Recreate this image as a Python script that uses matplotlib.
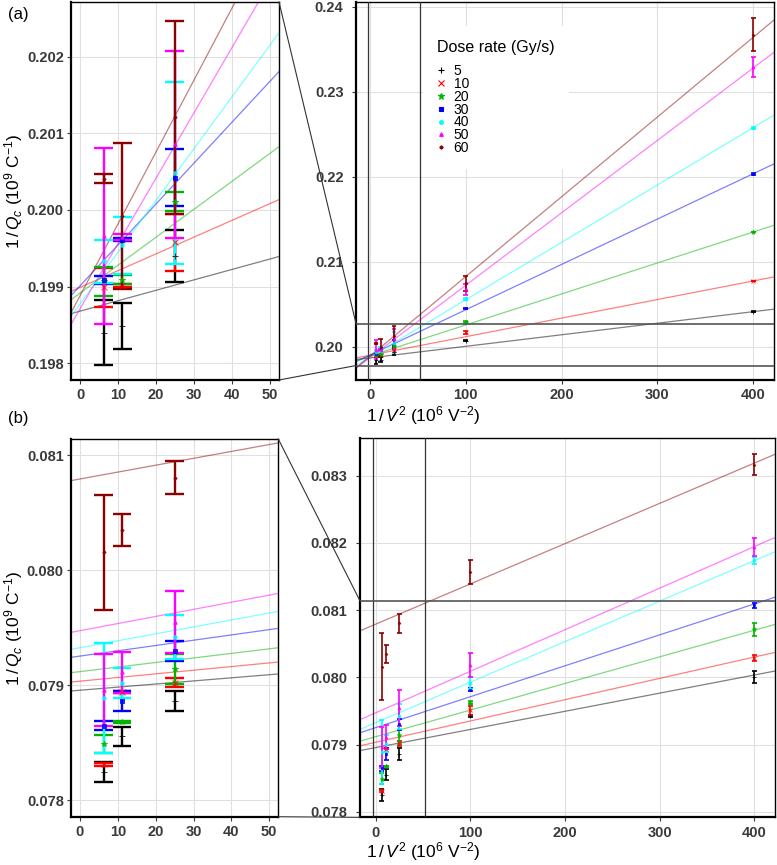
import matplotlib

matplotlib.use("Agg")

import matplotlib.pyplot as plt
import numpy as np
from matplotlib.lines import Line2D
from matplotlib.patches import ConnectionPatch

plt.rcParams["font.family"] = ["Liberation Sans", "DejaVu Sans"]
plt.rcParams["mathtext.fontset"] = "custom"
plt.rcParams["mathtext.rm"] = "Liberation Sans"
plt.rcParams["mathtext.it"] = "Liberation Sans:italic"
plt.rcParams["mathtext.bf"] = "Liberation Sans:bold"

# 1/V^2 (10^6 V^-2) for V = 400, 300, 200, 100, 50 V
x_vals = [6.25, 11.11, 25, 100, 400]
dose_rates = [5, 10, 20, 30, 40, 50, 60]
colors = ["#000000", "#FF0000", "#00B400", "#0000FF", "#00FFFF", "#FF00FF", "#8B0000"]
markers = ["+", "x", "*", "s", "o", "^", "D"]

# panel (a)
a_mean = [
    [0.19840, 0.19848, 0.19940, 0.20071, 0.20412],
    [0.19899, 0.19901, 0.19958, 0.20169, 0.20773],
    [0.19907, 0.19909, 0.20011, 0.20287, 0.21349],
    [0.19909, 0.19961, 0.20042, 0.20452, 0.22035],
    [0.19933, 0.19954, 0.20048, 0.20558, 0.22576],
    [0.19966, 0.19965, 0.20086, 0.20673, 0.23290],
    [0.20041, 0.19992, 0.20121, 0.20745, 0.23671],
]
a_err = [
    [0.00042, 0.00030, 0.00034, 0.00008, 0.00006],
    [0.00025, 0.00002, 0.00037, 0.00018, 0.00005],
    [0.00019, 0.00006, 0.00013, 0.00012, 0.00005],
    [0.00005, 0.00002, 0.00037, 0.00008, 0.00010],
    [0.00028, 0.00037, 0.00119, 0.00010, 0.00012],
    [0.00115, 0.00004, 0.00122, 0.00065, 0.00120],
    [0.00006, 0.00095, 0.00126, 0.00085, 0.00192],
]
a_intercept = [0.19868, 0.19899, 0.198915, 0.19901, 0.198774, 0.19871, 0.19888]
a_slope = [1.36e-5, 2.185e-5, 3.645e-5, 5.335e-5, 6.75e-5, 8.52e-5, 9.38e-5]

# panel (b)
b_mean = [
    [0.078246, 0.078554, 0.078860, 0.079423, 0.080005],
    [0.078310, 0.078940, 0.079019, 0.079510, 0.080290],
    [0.078490, 0.078676, 0.079140, 0.079621, 0.080715],
    [0.078647, 0.078863, 0.079299, 0.079815, 0.081070],
    [0.078890, 0.079015, 0.079420, 0.079920, 0.081740],
    [0.078957, 0.079110, 0.079549, 0.080190, 0.081940],
    [0.080156, 0.080348, 0.080804, 0.081572, 0.083168],
]
b_err = [
    [0.000087, 0.000084, 0.000087, 0.00002, 0.00009],
    [0.000015, 0.00001, 0.00004, 0.00007, 0.00004],
    [0.00008, 0.00001, 0.00013, 0.00002, 0.00010],
    [0.00004, 0.000087, 0.000087, 0.00002, 0.00004],
    [0.00048, 0.00013, 0.00019, 0.00009, 0.00005],
    [0.00031, 0.00018, 0.00027, 0.00018, 0.00014],
    [0.00050, 0.00014, 0.00014, 0.00018, 0.00015],
]
b_intercept = [0.078955, 0.079034, 0.079117, 0.079252, 0.079325, 0.079473, 0.080792]
b_slope = [2.7e-6, 3.17e-6, 3.96e-6, 4.6e-6, 6.03e-6, 6.18e-6, 5.99e-6]

zoom_xlim = (-2.45, 52.4)
a_zoom_ylim = (0.197782, 0.202713)
b_zoom_ylim = (0.077855, 0.081139)

TICK_COLOR = "#3a3a3a"
CAP_WIDTH = 5.0


def marker_size(marker, base):
    if marker == "D":
        return base * 0.4
    if marker in ["s", "o", "^"]:
        return base * 0.6
    return base


def style_axes(ax, ypad):
    ax.set_facecolor("white")
    ax.grid(True, color="#e0e0e0", linewidth=0.8)
    ax.set_axisbelow(True)
    for side in ["left", "bottom"]:
        ax.spines[side].set_linewidth(1.6)
    for side in ["top", "right"]:
        ax.spines[side].set_linewidth(1.0)
    for spine in ax.spines.values():
        spine.set_color("black")
    ax.tick_params(axis="both", length=3, width=0.8, color=TICK_COLOR, labelcolor=TICK_COLOR, labelsize=10.5)
    ax.tick_params(axis="y", pad=ypad)
    ax.tick_params(axis="x", pad=3)
    for label in ax.get_xticklabels() + ax.get_yticklabels():
        label.set_fontweight("bold")


def draw_series(ax, mean, err, intercept, slope, xlim, bar_lw, base_size):
    xs = np.array(xlim)
    for i in range(len(dose_rates)):
        ax.plot(xs, intercept[i] + slope[i] * xs, color=colors[i], alpha=0.5, linewidth=0.9, zorder=2)
    x = np.array(x_vals)
    for i in range(len(dose_rates)):
        m = np.array(mean[i])
        e = np.array(err[i])
        ax.vlines(x, m - e, m + e, color=colors[i], linewidth=bar_lw, zorder=3)
        ax.hlines(m - e, x - CAP_WIDTH / 2, x + CAP_WIDTH / 2, color=colors[i], linewidth=bar_lw, zorder=3)
        ax.hlines(m + e, x - CAP_WIDTH / 2, x + CAP_WIDTH / 2, color=colors[i], linewidth=bar_lw, zorder=3)
        ax.plot(x, m, linestyle="none", marker=markers[i], color=colors[i],
                markersize=marker_size(markers[i], base_size), markeredgewidth=0.7, alpha=0.8, zorder=4)


def draw_zoom_marks(fig, ax_left, ax_right, ylim_zoom):
    for xv in zoom_xlim:
        ax_right.axvline(xv, color="#333333", linewidth=0.9, zorder=5)
    for yv in ylim_zoom:
        ax_right.axhline(yv, color="#555555", linewidth=1.2, zorder=5)
    y_low = max(ylim_zoom[0], ax_right.get_ylim()[0])
    y_high = min(ylim_zoom[1], ax_right.get_ylim()[1])
    for ya, yb in [(1, y_high), (0, y_low)]:
        con = ConnectionPatch(xyA=(1, ya), coordsA=ax_left.transAxes,
                              xyB=(0, yb), coordsB=ax_right.get_yaxis_transform(),
                              color="#333333", linewidth=0.8)
        fig.add_artist(con)


fig = plt.figure(figsize=(7.77, 8.65), dpi=100)

ax_a_left = fig.add_axes([0.091, 0.5607, 0.2681, 0.437])
ax_a_right = fig.add_axes([0.4582, 0.5607, 0.538, 0.437])
ax_b_left = fig.add_axes([0.091, 0.0558, 0.2672, 0.4366])
ax_b_right = fig.add_axes([0.4633, 0.0551, 0.5341, 0.4385])

a_right_xlim = (-14.6, 421.7)
b_right_xlim = (-16.6, 422.0)

draw_series(ax_a_left, a_mean, a_err, a_intercept, a_slope, zoom_xlim, 1.7, 4.2)
draw_series(ax_a_right, a_mean, a_err, a_intercept, a_slope, a_right_xlim, 1.2, 3.3)
draw_series(ax_b_left, b_mean, b_err, b_intercept, b_slope, zoom_xlim, 1.7, 4.2)
draw_series(ax_b_right, b_mean, b_err, b_intercept, b_slope, b_right_xlim, 1.2, 3.3)

for ax in [ax_a_left, ax_b_left]:
    ax.set_xlim(zoom_xlim)
    ax.set_xticks([0, 10, 20, 30, 40, 50])
ax_a_left.set_ylim(a_zoom_ylim)
ax_a_left.set_yticks([0.198, 0.199, 0.200, 0.201, 0.202])
ax_a_left.set_yticklabels(["0.198", "0.199", "0.200", "0.201", "0.202"])
ax_b_left.set_ylim(b_zoom_ylim)
ax_b_left.set_yticks([0.078, 0.079, 0.080, 0.081])
ax_b_left.set_yticklabels(["0.078", "0.079", "0.080", "0.081"])

ax_a_right.set_xlim(a_right_xlim)
ax_a_right.set_ylim(0.19608, 0.24055)
ax_a_right.set_yticks([0.20, 0.21, 0.22, 0.23, 0.24])
ax_a_right.set_yticklabels(["0.20", "0.21", "0.22", "0.23", "0.24"])
ax_b_right.set_xlim(b_right_xlim)
ax_b_right.set_ylim(0.077917, 0.083562)
ax_b_right.set_yticks([0.078, 0.079, 0.080, 0.081, 0.082, 0.083])
ax_b_right.set_yticklabels(["0.078", "0.079", "0.080", "0.081", "0.082", "0.083"])
for ax in [ax_a_right, ax_b_right]:
    ax.set_xticks([0, 100, 200, 300, 400])

style_axes(ax_a_left, 2)
style_axes(ax_b_left, 2)
style_axes(ax_a_right, 6)
style_axes(ax_b_right, 6)

draw_zoom_marks(fig, ax_a_left, ax_a_right, a_zoom_ylim)
draw_zoom_marks(fig, ax_b_left, ax_b_right, b_zoom_ylim)

handles = [
    Line2D([], [], linestyle="none", marker=markers[i], color=colors[i],
           markersize=marker_size(markers[i], 4.5), markeredgewidth=0.8)
    for i in range(len(dose_rates))
]
leg = ax_a_right.legend(handles, [str(d) for d in dose_rates], title="Dose rate (Gy/s)",
                        loc="upper left", bbox_to_anchor=(0.144, 0.955), fontsize=10,
                        title_fontsize=11.5, frameon=True, facecolor="white", edgecolor="none",
                        framealpha=1.0, fancybox=False, handlelength=0.5, handletextpad=0.7,
                        labelspacing=-0.08, borderpad=1.0, alignment="left")
# extra gap between the legend title and its entries
leg._legend_box.sep = 6.5
leg.set_zorder(6)

ylabel = r"$1\,/\,\mathit{Q}_{c}$ ($10^{9}$ C$^{-1}$)"
xlabel = r"$1\,/\,\mathit{V}^{2}$ ($10^{6}$ V$^{-2}$)"
fig.text(14 / 777, 1 - 191 / 865, ylabel, rotation=90, ha="center", va="center", fontsize=12.5)
fig.text(14 / 777, 1 - 628 / 865, ylabel, rotation=90, ha="center", va="center", fontsize=12.5)
fig.text(423 / 777, 1 - 416 / 865, xlabel, ha="center", va="center", fontsize=12.5)
fig.text(423 / 777, 1 - 852 / 865, xlabel, ha="center", va="center", fontsize=12.5)

fig.text(8 / 777, 1 - 15 / 865, "(a)", ha="left", va="center", fontsize=12)
fig.text(8 / 777, 1 - 419 / 865, "(b)", ha="left", va="center", fontsize=12)

fig.savefig("out.png", dpi=100, facecolor="white")
plt.close(fig)
